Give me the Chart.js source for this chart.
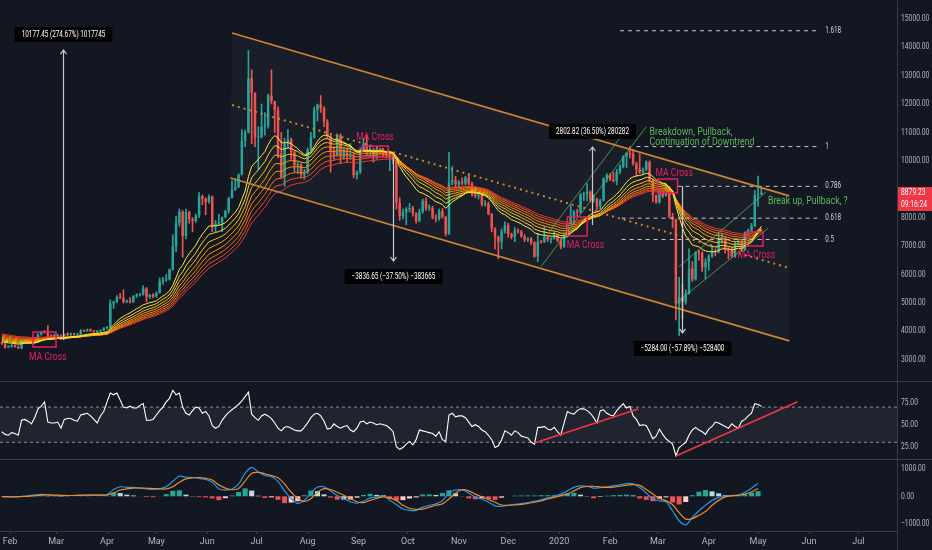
<!DOCTYPE html>
<html>
<head>
<meta charset="utf-8">
<script src="https://cdn.jsdelivr.net/npm/chart.js@4.4.1/dist/chart.umd.min.js"></script>
<style>
  html, body { margin: 0; padding: 0; background: #131722; }
  #wrap { position: relative; width: 932px; height: 550px; overflow: hidden; background: #131722; }
  canvas { position: absolute; left: 0; }
  #priceChart { top: 0; }
  #rsiChart { top: 381px; }
  #macdChart { top: 459px; }
</style>
</head>
<body>
<div id="wrap">
  <canvas id="priceChart" width="932" height="381"></canvas>
  <canvas id="rsiChart" width="932" height="78"></canvas>
  <canvas id="macdChart" width="932" height="91"></canvas>
</div>
<script>
// BTC daily chart, 2-day candles
const candleStart = "2019-01-27";
const candleStep = 2;
const firstOpen = 3580;

const closes = [
  3560,3430,3460,3510,3450,3400,3660,3660,3620,3590,
  3620,3880,3980,3990,3850,3830,3850,3860,3730,3880,
  3870,3910,3880,3890,4020,4010,4060,4010,3990,3990,
  4030,4110,4140,4970,5040,5200,5170,5030,5070,5030,
  5230,5280,5290,5500,5210,5280,5210,5350,5750,5820,
  5830,6170,6990,7810,8200,7350,8200,7950,7880,8070,
  8750,8660,8550,8740,7680,7790,7830,8010,8230,8690,
  8990,9070,9520,10700,11000,12900,12380,10820,10830,11200,
  11230,12300,12100,11800,10250,9430,10600,10750,10300,9850,
  9880,9500,9580,10400,10820,11800,11980,11860,11380,10860,
  10310,10220,10900,10130,10400,10140,10170,9500,9600,10380,
  10580,10310,10400,10100,10410,10360,10260,10180,10230,10020,
  8530,8060,8190,8300,8340,8150,7880,8200,8590,8330,
  8340,8000,7960,8230,8030,7430,9240,9320,9170,9260,
  9200,9410,9200,8810,8760,8800,8460,8500,8120,7620,
  7320,7150,7520,7730,7420,7320,7550,7510,7340,7220,
  7260,7120,6630,7150,7140,7320,7230,7250,7380,7190,
  6960,7350,7770,8060,8200,8190,8810,8820,8910,8630,
  8660,8390,8600,9380,9500,9330,9290,9610,9800,10150,
  10270,10240,9900,9710,9600,9690,9960,9310,8790,8540,
  8910,8760,9070,8040,7940,4970,5200,5020,5320,6200,
  5830,6770,6760,6250,6430,6640,6790,6780,7190,7300,
  6870,6860,6640,7100,7120,6850,7480,7550,7700,8780,
  8830,8880
];
const highs = [
  3610,3580,3490,3530,3520,3480,3700,3690,3690,3650,
  3650,3920,4000,4020,4200,3880,3900,3880,3870,3900,
  3950,3930,3930,3920,4060,4050,4080,4080,4030,4020,
  4050,4130,4170,5100,5060,5250,5330,5460,5100,5180,
  5260,5320,5330,5600,5540,5300,5320,5380,5880,5900,
  6000,6200,7400,8050,8300,8250,8300,8230,8000,8130,
  8880,8800,8700,8800,8760,7900,8120,8030,8260,8720,
  9300,9370,9540,11100,11080,13880,13200,12400,11200,12000,
  11700,12350,13200,12100,11900,11000,10800,11100,10800,10350,
  9950,9900,9700,10450,11000,11900,12000,12300,11900,11450,
  10900,10500,10950,10950,10450,10450,10600,10300,9650,10450,
  10800,10900,10550,10450,10450,10450,10400,10300,10300,10250,
  10050,8700,8300,8350,8500,8400,8180,8300,8650,8700,
  8450,8400,8100,8300,8320,8050,10300,9800,9450,9300,
  9400,9450,9500,9250,9100,8900,8850,8600,8550,8150,
  7650,7350,7600,7850,7800,7450,7650,7600,7550,7400,
  7300,7300,7150,7450,7200,7680,7350,7300,7500,7400,
  7250,7450,7800,8450,8250,8300,8850,8900,9200,8950,
  8800,8700,8650,9400,9550,9550,9600,9700,9870,10180,
  10300,10500,10400,9950,10250,9750,10000,10000,9350,8800,
  8950,8950,9150,9100,8150,7950,5900,5650,5450,6900,
  6450,6800,6850,6800,6550,6700,7000,6900,7450,7450,
  7300,6950,6950,7150,7250,7200,7500,7600,7800,8950,
  9460,9050
];
const lows = [
  3530,3400,3420,3440,3430,3390,3380,3600,3590,3570,
  3580,3600,3860,3930,3750,3790,3790,3820,3700,3710,
  3840,3850,3850,3850,3880,3980,3990,3990,3960,3940,
  3980,4020,4080,4120,4800,5000,5150,4990,5000,4990,
  5010,5190,5230,5270,5030,5150,5170,5200,5340,5650,
  5750,5800,6150,6800,7700,6600,7250,7800,7500,7830,
  8000,8450,8100,8500,7500,7500,7750,7500,7990,8150,
  8680,8950,9050,9500,10500,10980,10600,10500,9700,10800,
  10900,11150,12000,11000,10100,9400,9100,10450,10050,9600,
  9550,9400,9350,9550,10350,10800,11400,11700,11200,10800,
  9600,10050,10150,9900,10050,9950,10050,9400,9350,9550,
  10350,10200,10150,9950,10050,10250,10150,10100,9650,9900,
  8300,7900,7950,7750,8200,8050,7800,7850,8150,8250,
  8250,7950,7850,7900,7980,7350,7400,9150,9050,9050,
  9150,9150,9150,8750,8700,8650,8400,8400,8100,7500,
  6900,6550,6900,7450,7300,7250,7150,7450,7300,7150,
  7150,7050,6600,6450,7100,7120,7150,7100,7240,7150,
  6900,6950,7300,7750,7750,8050,8150,8600,8600,8550,
  8550,8250,8300,8580,9250,9300,9250,9150,9550,9750,
  9750,10100,9850,9450,9550,9550,9650,9250,8550,8500,
  8500,8700,8750,8000,7650,4400,3850,4450,4950,5300,
  5750,5800,6500,6100,5850,6150,6600,6650,6750,7100,
  6750,6550,6600,6600,7000,6800,6840,7400,7500,7680,
  8400,8800
];

// EMA ribbon (periods in 2-day bars), start values read at the left edge
const ribbonPeriods = [15, 19, 23, 27, 31, 35, 39, 43];
const ribbonSeed = [3640, 3680, 3720, 3760, 3800, 3840, 3880, 3920];
const ribbonColors = ["#ffeb3b", "#fdd835", "#ffc107", "#ffa000", "#ff8f00", "#ff6f00", "#f4511e", "#e53935"];

// RSI, same dates as the candles
const rsiValues = [
  42,39,38,41,40,38,55,56,54,51,
  58,68,71,76,53,52,52,53,46,56,
  57,57,55,54,61,62,63,60,56,52,
  60,65,76,86,84,86,78,70,69,71,
  69,69,72,74,55,55,56,61,66,70,
  76,80,89,84,86,70,63,61,66,70,
  69,63,65,60,49,46,48,55,60,64,
  67,70,73,77,82,87,62,58,55,60,
  62,60,57,52,46,43,47,48,46,44,
  43,43,47,52,58,62,63,60,54,45,
  46,51,48,46,48,49,44,42,46,53,
  54,51,53,52,50,51,50,49,46,42,
  25,22,24,28,31,27,33,44,43,42,
  41,40,37,42,33,31,61,63,59,60,
  60,58,53,48,50,48,44,42,38,33,
  24,26,33,43,41,38,43,41,37,36,
  35,30,28,47,47,48,45,44,47,42,
  38,52,65,63,62,66,68,68,66,63,
  58,52,66,67,63,61,60,66,70,74,
  69,71,60,56,49,50,49,42,34,37,
  45,39,34,31,28,15,24,27,30,38,
  44,47,44,42,39,45,48,53,52,50,
  48,46,51,48,46,54,56,60,63,74,
  73,71
];
const rsiBands = [70, 30];

// MACD, read every 4 days
const macdStart = "2019-01-27";
const macdStep = 4;
const macdLine = [
  -10,-20,-20,0,20,50,70,60,30,20,
  25,35,45,45,40,45,60,250,350,330,
  330,300,270,250,280,350,550,740,700,690,
  660,620,520,280,230,270,450,850,1060,900,
  770,720,550,200,-80,-260,-150,120,340,350,
  200,30,-80,-200,-250,-180,-60,-30,20,-150,
  -300,-470,-520,-520,-400,-330,-280,-160,120,230,
  230,120,-30,-100,-220,-350,-370,-330,-300,-270,
  -230,-190,-130,-60,0,80,200,330,380,370,
  300,320,350,380,420,470,460,320,120,-100,
  -170,-200,-540,-900,-1050,-780,-530,-330,-150,-40,
  20,30,50,150,300,480
];
const signalLine = [
  -10,-15,-20,-10,0,20,40,50,45,35,
  30,30,35,40,40,40,45,120,230,270,
  300,305,295,285,275,270,350,520,640,680,
  690,660,600,420,300,240,290,560,850,880,
  830,760,680,450,150,-80,-190,-90,150,280,
  250,150,40,-80,-200,-230,-150,-80,-20,-60,
  -150,-330,-440,-480,-470,-400,-330,-280,-100,120,
  240,200,80,-20,-120,-220,-320,-330,-320,-300,
  -260,-220,-170,-100,-40,20,90,200,320,360,
  370,340,330,340,370,410,430,400,250,80,
  -80,-160,-310,-600,-840,-820,-700,-560,-330,-150,
  -20,20,30,80,160,290
];

// axes
const priceTicks = [3000,4000,5000,6000,7000,8000,9000,10000,11000,12000,13000,14000,15000];
const rsiTicks = [25, 50, 75];
const macdTicks = [-1000, 0, 1000];
const monthDates = ["2019-02-01","2019-03-01","2019-04-01","2019-05-01","2019-06-01","2019-07-01",
  "2019-08-01","2019-09-01","2019-10-01","2019-11-01","2019-12-01","2020-01-01",
  "2020-02-01","2020-03-01","2020-04-01","2020-05-01","2020-06-01","2020-07-01"];
const monthLabels = ["Feb","Mar","Apr","May","Jun","Jul","Aug","Sep","Oct","Nov","Dec","2020",
  "Feb","Mar","Apr","May","Jun","Jul"];

// drawings
const channelUpper = [["2019-06-16", 14500], ["2020-05-20", 8761]];
const channelLower = [["2019-06-15", 9394], ["2020-05-20", 3655]];
const channelMid = [["2019-06-16", 11965], ["2020-05-20", 6225]];
const greenLines = [
  [["2019-12-21", 6271], ["2020-02-23", 11201]],
  [["2019-12-25", 7423], ["2020-02-07", 10803]],
  [["2020-03-12", 4982], ["2020-05-07", 7623]],
  [["2020-03-14", 6271], ["2020-05-06", 8912]]
];
const fibLabels = ["1.618", "1", "0.786", "0.618", "0.5"];
const fibPrices = [14580, 10500, 9100, 7980, 7230];
const fibFrom = ["2020-02-07", "2020-02-17", "2020-03-13", "2020-02-08", "2020-02-08"];
const fibTo = "2020-06-06";
const maCrossBoxes = [
  ["2019-02-15", "2019-03-01", 3444, 3972],
  ["2019-09-03", "2019-09-19", 10134, 10521],
  ["2020-01-06", "2020-01-18", 7352, 8021],
  ["2020-03-01", "2020-03-13", 8866, 9359],
  ["2020-04-24", "2020-05-04", 7000, 7493]
];
const maCrossLabels = [
  ["MA Cross", "2019-02-24", 3092],
  ["MA Cross", "2019-09-11", 10838],
  ["MA Cross", "2020-01-17", 7035],
  ["MA Cross", "2020-03-11", 9570],
  ["MA.Cross", "2020-04-30", 6683]
];
const measures = [
  ["2019-03-05", 3690, 13900, "10177.45 (274.67%) 1017745"],
  ["2019-09-22", 10134, 6472, "\u22123836.65 (\u221237.50%) \u2212383665"],
  ["2020-01-21", 7740, 10486, "2802.82 (36.50%) 280282"],
  ["2020-03-16", 9113, 3937, "\u22125284.00 (\u221257.89%) \u2212528400"]
];
const greenNotes = [
  ["Breakdown, Pullback,", "2020-02-25", 11014],
  ["Continuation of Downtrend", "2020-02-25", 10662],
  ["Break up, Pullback, ?", "2020-05-07", 8585]
];
const rsiTrend = [
  [["2019-12-17", 29.2], ["2020-02-18", 67.8]],
  [["2020-03-12", 14.4], ["2020-05-25", 76.1]]
];
const lastPrice = 8879.23;
const countdown = "09:16:24";

// ---------- helpers ----------
const FONT = "Roboto, 'DejaVu Sans', sans-serif";
const AXIS_TXT = "#b2b5be";
const LINE_CLR = "#363a45";
const X_MIN = -6.1, X_MAX = 539.5;
Chart.defaults.font.family = FONT;

function dayOf(s) {
  return (Date.UTC(+s.slice(0, 4), +s.slice(5, 7) - 1, +s.slice(8, 10)) - Date.UTC(2019, 1, 1)) / 864e5;
}
// narrow text, the screenshot uses a condensed face
function narrowText(ctx, txt, x, y, size, color, align, k) {
  ctx.save();
  ctx.font = size + "px " + FONT;
  ctx.fillStyle = color;
  ctx.textBaseline = "middle";
  ctx.textAlign = "left";
  const w = ctx.measureText(txt).width * k;
  const x0 = align === "center" ? x - w / 2 : (align === "right" ? x - w : x);
  ctx.translate(x0, y);
  ctx.scale(k, 1);
  ctx.fillText(txt, 0, 0);
  ctx.restore();
  return w;
}
function seg(pts, color, width, dash, order) {
  return {
    type: "line",
    data: pts.map(p => ({ x: dayOf(p[0]), y: p[1] })),
    borderColor: color, borderWidth: width, borderDash: dash || [],
    pointRadius: 0, fill: false, tension: 0, order: order || 1
  };
}
function xScale(show) {
  return { type: "linear", min: X_MIN, max: X_MAX, offset: false, display: show };
}
function yScale(min, max, ticks) {
  return {
    position: "right", min: min, max: max, offset: false,
    grid: { display: false }, border: { display: false },
    afterBuildTicks: s => { s.ticks = ticks.map(v => ({ value: v })); },
    afterFit: s => { s.width = 35; s.paddingTop = 0; s.paddingBottom = 0; },
    ticks: { display: false }
  };
}
// right axis labels, pane borders
const edges = {
  id: "edges",
  afterDraw(chart, args, opts) {
    const { ctx, chartArea, scales: { y } } = chart;
    ctx.save();
    ctx.strokeStyle = LINE_CLR;
    ctx.lineWidth = 1;
    ctx.beginPath();
    ctx.moveTo(chartArea.right + 0.5, 0);
    ctx.lineTo(chartArea.right + 0.5, chart.height);
    if (opts.top) {
      ctx.moveTo(0, 0.5);
      ctx.lineTo(chart.width, 0.5);
    }
    ctx.stroke();
    ctx.restore();
    const tagY = opts.tag != null ? y.getPixelForValue(opts.tag) : null;
    y.ticks.forEach(t => {
      const ty = y.getPixelForValue(t.value);
      if (tagY !== null && ty > tagY - 12 && ty < tagY + 24) return;
      narrowText(ctx, t.value.toFixed(2).replace("-", "\u2212"), chartArea.right + 4,
        ty, 9, AXIS_TXT, "left", 0.75);
    });
  }
};
const baseOpts = {
  responsive: false, animation: false, events: [],
  layout: { padding: 0 },
  plugins: { legend: { display: false }, tooltip: { enabled: false } }
};

// ---------- price pane ----------
const c0 = dayOf(candleStart);
const candleX = closes.map((c, i) => c0 + i * candleStep);
const opens = closes.map((c, i) => (i ? closes[i - 1] : firstOpen));
const candleClr = closes.map((c, i) => (c >= opens[i] ? "#26a69a" : "#ef5350"));

const ribbonSets = ribbonPeriods.map((n, j) => {
  const a = 2 / (n + 1);
  let e = ribbonSeed[j];
  return {
    type: "line",
    data: closes.map((c, i) => { e = e + a * (c - e); return { x: candleX[i], y: e }; }),
    borderColor: ribbonColors[j], borderWidth: 1, pointRadius: 0, tension: 0, fill: false,
    order: 5
  };
});

const priceSets = [
  {
    type: "bar", grouped: false, order: 10,
    data: closes.map((c, i) => ({ x: candleX[i], y: [lows[i], highs[i]] })),
    backgroundColor: candleClr, barThickness: 1
  },
  {
    type: "bar", grouped: false, order: 9,
    data: closes.map((c, i) => ({ x: candleX[i], y: [opens[i], c] })),
    backgroundColor: candleClr, barPercentage: 0.95, categoryPercentage: 0.8, minBarLength: 1
  },
  ...ribbonSets,
  seg(channelUpper, "#c8862f", 1.8),
  seg(channelLower, "#c8862f", 1.8),
  seg(channelMid, "#c8862f", 2, [2, 4]),
  ...greenLines.map(g => seg(g, "rgba(92,184,92,0.75)", 1)),
  ...fibPrices.map((p, i) => seg([[fibFrom[i], p], [fibTo, p]], "#c8cad0", 1, [4, 4]))
];

const priceDrawings = {
  id: "priceDrawings",
  beforeDatasetsDraw(chart) {
    const { ctx, scales: { x, y } } = chart;
    const P = pt => [x.getPixelForValue(dayOf(pt[0])), y.getPixelForValue(pt[1])];
    const a = P(channelUpper[0]), b = P(channelUpper[1]), c = P(channelLower[1]), d = P(channelLower[0]);
    ctx.save();
    ctx.fillStyle = "rgba(255,255,255,0.03)";
    ctx.beginPath();
    ctx.moveTo(a[0], a[1]); ctx.lineTo(b[0], b[1]); ctx.lineTo(c[0], c[1]); ctx.lineTo(d[0], d[1]);
    ctx.closePath();
    ctx.fill();
    ctx.restore();
  },
  afterDatasetsDraw(chart) {
    const { ctx, scales: { x, y } } = chart;
    const X = s => x.getPixelForValue(dayOf(s));
    ctx.save();
    // MA cross boxes
    ctx.strokeStyle = "#e91e63";
    ctx.lineWidth = 1.5;
    maCrossBoxes.forEach(bx => {
      const x1 = X(bx[0]), x2 = X(bx[1]), y1 = y.getPixelForValue(bx[3]), y2 = y.getPixelForValue(bx[2]);
      ctx.strokeRect(x1, y1, x2 - x1, y2 - y1);
    });
    maCrossLabels.forEach(l => narrowText(ctx, l[0], X(l[1]), y.getPixelForValue(l[2]), 11, "#e91e63", "center", 0.78));
    // measure arrows
    measures.forEach(m => {
      const mx = Math.round(X(m[0])) + 0.5, y1 = y.getPixelForValue(m[1]), y2 = y.getPixelForValue(m[2]);
      const dir = y2 < y1 ? -1 : 1;
      ctx.strokeStyle = "#c8cad0";
      ctx.lineWidth = 1.2;
      ctx.beginPath();
      ctx.moveTo(mx, y1); ctx.lineTo(mx, y2);
      ctx.moveTo(mx - 3, y2 - dir * 4); ctx.lineTo(mx, y2); ctx.lineTo(mx + 3, y2 - dir * 4);
      ctx.stroke();
      ctx.font = "8.5px " + FONT;
      const w = ctx.measureText(m[3]).width * 0.75 + 14, h = 15;
      const by = dir < 0 ? y2 - 8 - h : y2 + 8;
      ctx.fillStyle = "rgba(0,0,0,0.88)";
      ctx.fillRect(mx - w / 2, by, w, h);
      narrowText(ctx, m[3], mx, by + h / 2 + 0.5, 8.5, "#ffffff", "center", 0.75);
    });
    // fib labels
    fibPrices.forEach((p, i) => narrowText(ctx, fibLabels[i], X(fibTo) + 8, y.getPixelForValue(p), 8.5, "#d1d4dc", "left", 0.74));
    // notes
    greenNotes.forEach(n => narrowText(ctx, n[0], X(n[1]), y.getPixelForValue(n[2]), 11, "#5cb85c", "left", 0.8));
    ctx.restore();
  }
};
// current price tag on the axis
const priceTag = {
  id: "priceTag",
  afterDraw(chart) {
    const { ctx, chartArea, scales: { y } } = chart;
    const cy = Math.round(y.getPixelForValue(lastPrice));
    const left = chartArea.right + 1;
    ctx.save();
    ctx.fillStyle = "#f23645";
    ctx.fillRect(left, cy - 6, chart.width - left, 12);
    ctx.fillRect(left, cy + 6, chart.width - left, 12);
    ctx.restore();
    narrowText(ctx, lastPrice.toFixed(2), left + 3, cy, 9, "#ffffff", "left", 0.75);
    narrowText(ctx, countdown, left + 3, cy + 12, 9, "#ffffff", "left", 0.75);
  }
};

new Chart(document.getElementById("priceChart"), {
  type: "bar",
  data: { datasets: priceSets },
  options: Object.assign({}, baseOpts, {
    scales: { x: xScale(false), y: yScale(2246, 15662, priceTicks) },
    plugins: Object.assign({}, baseOpts.plugins, { edges: { top: false, tag: lastPrice } })
  }),
  plugins: [priceDrawings, edges, priceTag]
});

// ---------- RSI pane ----------
const rsiBand = {
  id: "rsiBand",
  beforeDatasetsDraw(chart) {
    const { ctx, chartArea, scales: { y } } = chart;
    const y1 = y.getPixelForValue(rsiBands[0]), y2 = y.getPixelForValue(rsiBands[1]);
    ctx.save();
    ctx.fillStyle = "rgba(120,123,134,0.13)";
    ctx.fillRect(chartArea.left, y1, chartArea.right - chartArea.left, y2 - y1);
    ctx.restore();
  }
};

new Chart(document.getElementById("rsiChart"), {
  type: "line",
  data: {
    datasets: [
      ...rsiBands.map(v => ({
        data: [{ x: X_MIN, y: v }, { x: X_MAX, y: v }],
        borderColor: "#8a8d96", borderWidth: 1, borderDash: [3, 3], pointRadius: 0, order: 3
      })),
      {
        data: rsiValues.map((v, i) => ({ x: candleX[i], y: v })),
        borderColor: "#ffffff", borderWidth: 1.1, pointRadius: 0, tension: 0, order: 2
      },
      ...rsiTrend.map(t => seg(t, "#f23645", 1.5))
    ]
  },
  options: Object.assign({}, baseOpts, {
    scales: { x: xScale(false), y: yScale(11, 99.7, rsiTicks) },
    plugins: Object.assign({}, baseOpts.plugins, { edges: { top: true } })
  }),
  plugins: [rsiBand, edges]
});

// ---------- MACD pane ----------
const m0 = dayOf(macdStart);
const macdX = macdLine.map((v, i) => m0 + i * macdStep);
const hist = macdLine.map((v, i) => v - signalLine[i]);
const histClr = hist.map((h, i) => {
  const prev = i ? hist[i - 1] : h;
  if (h >= 0) return h >= prev ? "#26a69a" : "#b2dfdb";
  return h < prev ? "#ef5350" : "#ffcdd2";
});

new Chart(document.getElementById("macdChart"), {
  type: "bar",
  data: {
    datasets: [
      {
        type: "bar", order: 5, grouped: false,
        data: hist.map((h, i) => ({ x: macdX[i], y: h })),
        backgroundColor: histClr, barPercentage: 0.9, categoryPercentage: 0.85
      },
      {
        type: "line", order: 2,
        data: macdLine.map((v, i) => ({ x: macdX[i], y: v })),
        borderColor: "#2196f3", borderWidth: 1.2, pointRadius: 0, tension: 0.3
      },
      {
        type: "line", order: 1,
        data: signalLine.map((v, i) => ({ x: macdX[i], y: v })),
        borderColor: "#f08a24", borderWidth: 1.2, pointRadius: 0, tension: 0.3
      }
    ]
  },
  options: Object.assign({}, baseOpts, {
    scales: {
      x: {
        type: "linear", min: X_MIN, max: X_MAX, offset: false, position: "bottom",
        grid: { display: true, drawOnChartArea: false, drawTicks: true, tickLength: 3, color: LINE_CLR, offset: false },
        border: { display: true, color: LINE_CLR },
        afterBuildTicks: s => { s.ticks = monthDates.map(d => ({ value: dayOf(d) })); },
        afterFit: s => { s.height = 19; s.paddingLeft = 0; s.paddingRight = 0; },
        ticks: { color: AXIS_TXT, font: { size: 9 }, padding: 2, autoSkip: false, maxRotation: 0,
                 callback: (v, i) => monthLabels[i] }
      },
      y: yScale(-1276, 1371, macdTicks)
    },
    plugins: Object.assign({}, baseOpts.plugins, { edges: { top: true } })
  }),
  plugins: [edges]
});
</script>
</body>
</html>
